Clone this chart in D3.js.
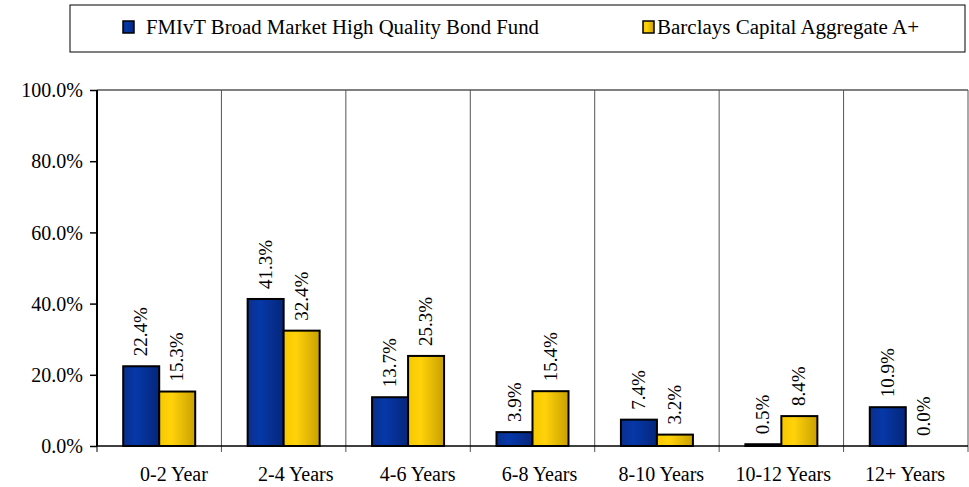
<!DOCTYPE html>
<html><head><meta charset="utf-8">
<script src="https://cdn.jsdelivr.net/npm/d3@7"></script>
</head><body style="margin:0">
<svg id="c" width="969" height="487" font-family="Liberation Serif"></svg>
<script>
const categories = ["0-2 Year","2-4 Years","4-6 Years","6-8 Years","8-10 Years","10-12 Years","12+ Years"];
const seriesNames = ["FMIvT Broad Market High Quality Bond Fund","Barclays Capital Aggregate A+"];
const fundValues = [22.4,41.3,13.7,3.9,7.4,0.5,10.9];
const indexValues = [15.3,32.4,25.3,15.4,3.2,8.4,0.0];
const yTicks = [0,20,40,60,80,100];

const FONT = "Liberation Serif";
const svg = d3.select("#c");
const L=97,R=968,T=90,B=446;
const x = d3.scaleBand().domain(categories).range([L,R]);
const xLab = d3.scaleBand().domain(categories).range([113,966]);
const y = d3.scaleLinear().domain([0,100]).range([B,T]);
const barW = 36;

const defs = svg.append("defs");
function grad(id, c1, c2, c3){
  const g = defs.append("linearGradient").attr("id",id).attr("x1","0").attr("y1","0").attr("x2","1").attr("y2","0");
  g.append("stop").attr("offset","0").attr("stop-color",c1);
  g.append("stop").attr("offset","0.35").attr("stop-color",c2);
  g.append("stop").attr("offset","1").attr("stop-color",c3);
}
grad("gb","#0a2f8c","#0638a8","#05267a");
grad("gy","#f5c800","#ffd20a","#c9a000");

function txt(sel){ return sel.attr("font-family",FONT).attr("fill","#000"); }

// legend
svg.append("rect").attr("x",70).attr("y",5).attr("width",895).attr("height",47).attr("fill","#fff").attr("stroke","#000").attr("stroke-width",1);
const leg = [{x:123,tx:146,w:393,name:seriesNames[0],fill:"url(#gb)"},{x:643,tx:657,w:262,name:seriesNames[1],fill:"url(#gy)"}];
leg.forEach(d=>{
  svg.append("rect").attr("x",d.x).attr("y",21).attr("width",11).attr("height",12).attr("fill",d.fill).attr("stroke","#000").attr("stroke-width",1.5);
  txt(svg.append("text")).attr("x",d.tx).attr("y",34).attr("font-size",20).text(d.name)
    .attr("textLength",d.w).attr("lengthAdjust","spacingAndGlyphs");
});

// top gridline
svg.append("line").attr("x1",L).attr("x2",R).attr("y1",T).attr("y2",T).attr("stroke","#808080").attr("stroke-width",2);
// category separators
categories.forEach((c,i)=>{
  const xx = x(c)+x.bandwidth();
  svg.append("line").attr("x1",xx).attr("x2",xx).attr("y1",T).attr("y2",B+6).attr("stroke","#555").attr("stroke-width",1);
});

// bars
const g = svg.append("g");
categories.forEach((c,i)=>{
  const cx = x(c)+x.bandwidth()/2;
  [[fundValues[i],"url(#gb)",cx-barW],[indexValues[i],"url(#gy)",cx]].forEach(([v,f,bx])=>{
    if(v>0){
      g.append("rect").attr("x",bx).attr("y",y(v)).attr("width",barW).attr("height",B-y(v))
        .attr("fill",f).attr("stroke","#000").attr("stroke-width",2);
    }
    const lx = bx+barW/2+6, ly = y(v)-10;
    txt(g.append("text")).attr("transform",`translate(${lx},${ly}) rotate(-90)`).attr("font-size",19).text(v.toFixed(1)+"%");
  });
});

// y axis
const ya = svg.append("g").attr("transform",`translate(${L},0)`).call(d3.axisLeft(y).tickValues(yTicks).tickSize(7).tickFormat(d=>d.toFixed(1)+"%"));
ya.attr("font-family",FONT).attr("font-size",20);
ya.select(".domain").attr("stroke","#000").attr("stroke-width",2).attr("d",`M0,${T}V${B}`);
ya.selectAll(".tick line").attr("stroke","#000").attr("stroke-width",1.5);
ya.selectAll(".tick text").attr("font-size",20).attr("font-family",FONT).attr("fill","#000").attr("x",-14).attr("dy","0.33em");

// x axis line
svg.append("line").attr("x1",L).attr("x2",R).attr("y1",B).attr("y2",B).attr("stroke","#000").attr("stroke-width",1.5);
svg.append("line").attr("x1",L).attr("x2",L).attr("y1",B).attr("y2",B+6).attr("stroke","#000").attr("stroke-width",1);
// x labels
categories.forEach(c=>{
  txt(svg.append("text")).attr("x",xLab(c)+xLab.bandwidth()/2).attr("y",481).attr("text-anchor","middle").attr("font-size",20).text(c);
});
</script>
</body></html>
